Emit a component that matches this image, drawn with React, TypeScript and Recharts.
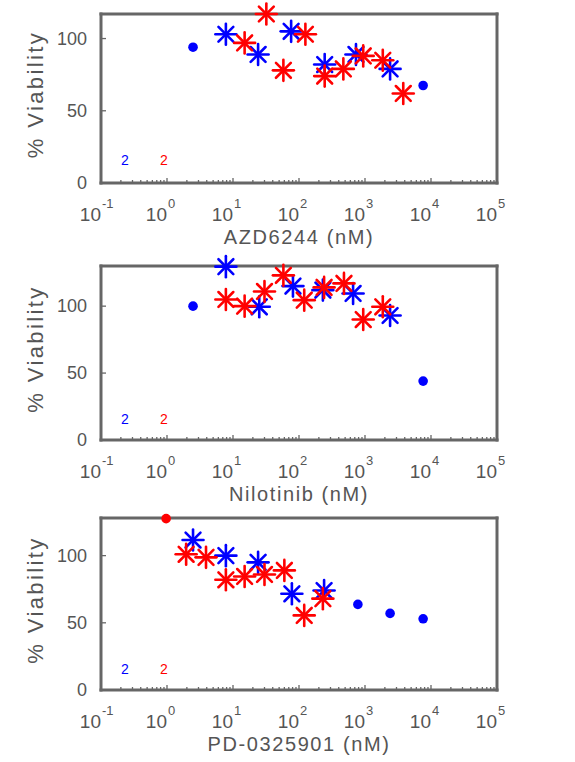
import { ScatterChart, Scatter, XAxis, YAxis } from 'recharts';

// dose (nM), % viability
const azdBlueStars = [[7.8, 103], [24, 89], [76, 105], [245, 82], [730, 89], [2400, 79]];
const azdRedStars = [[15, 97], [32, 117], [58, 78], [125, 103], [245, 74], [470, 79], [940, 88], [1860, 85], [3800, 62]];
const azdBlueDots = [[2.48, 94], [7600, 67.5]];
const azdRedDots: number[][] = [];

const niloBlueStars = [[7.8, 129.5], [25, 99.5], [81, 115], [230, 112], [660, 109.5], [2400, 93]];
const niloRedStars = [[7.8, 105], [15, 100], [30, 111], [58, 123], [120, 104.5], [240, 114], [480, 117], [940, 90], [1860, 99.5]];
const niloBlueDots = [[2.48, 100], [7600, 44]];
const niloRedDots: number[][] = [];

const pdBlueStars = [[2.48, 111.6], [7.8, 100], [24, 95], [78, 71.6], [240, 74]];
const pdRedStars = [[1.95, 101], [3.9, 98.7], [7.8, 82], [15, 84.5], [30, 86], [60, 89], [120, 55.5], [230, 68]];
const pdBlueDots = [[780, 63.7], [2400, 57], [7600, 53]];
const pdRedDots = [[0.97, 127.5]];

// the little "2" counts near the lower left
const blueCount = [[0.23, 16, 2]];
const redCount = [[0.9, 16, 2]];

const xTicks = [0.1, 1, 10, 100, 1000, 10000, 100000];
const yTicks = [0, 50, 100];
const minorTicks = xTicks.slice(0, -1).flatMap((d) => [2, 3, 4, 5, 6, 7, 8, 9].map((m) => d * m));
const allXTicks = [...xTicks, ...minorTicks];

const BLUE = '#0000ff';
const RED = '#ff0000';
const TEXT = '#555555';
const BOX = '#666666';
const FONT = '"Liberation Sans", Arial, Helvetica, sans-serif';

const toPts = (arr: number[][]) => arr.map(([x, y, n]) => ({ x, y, n }));

const makeStar = (color: string) => (props: any) => {
  const { cx, cy } = props;
  if (cx == null || cy == null) return <g />;
  const r = 10.5;
  const d = r * Math.SQRT1_2;
  return (
    <g stroke={color} strokeWidth={2.6} strokeLinecap="round">
      <line x1={cx - r} y1={cy} x2={cx + r} y2={cy} />
      <line x1={cx} y1={cy - r} x2={cx} y2={cy + r} />
      <line x1={cx - d} y1={cy - d} x2={cx + d} y2={cy + d} />
      <line x1={cx - d} y1={cy + d} x2={cx + d} y2={cy - d} />
    </g>
  );
};

const makeDot = (color: string) => (props: any) => {
  const { cx, cy } = props;
  if (cx == null || cy == null) return <g />;
  return <circle cx={cx} cy={cy} r={4.8} fill={color} />;
};

const makeCount = (color: string) => (props: any) => {
  const { cx, cy, payload } = props;
  if (cx == null || cy == null) return <g />;
  return (
    <text x={cx} y={cy} fill={color} fontSize={14} fontFamily={FONT} textAnchor="middle" dominantBaseline="central">
      {payload.n}
    </text>
  );
};

const BottomTick = (props: any) => {
  const { x, y, payload } = props;
  const v = payload.value;
  const major = xTicks.includes(v);
  const exp = Math.round(Math.log10(v));
  return (
    <g>
      <line x1={x} x2={x} y1={y} y2={y - (major ? 5 : 3)} stroke={BOX} strokeWidth={1.3} />
      {major && (
        <text x={x} y={y + 38} textAnchor="end" fontSize={19} fill={TEXT} fontFamily={FONT}>
          10
        </text>
      )}
      {major && (
        <text x={x + 1} y={y + 25} textAnchor="start" fontSize={13} fill={TEXT} fontFamily={FONT}>
          {exp}
        </text>
      )}
    </g>
  );
};

const TopTick = (props: any) => {
  const { x, y, payload } = props;
  const major = xTicks.includes(payload.value);
  return <line x1={x} x2={x} y1={y} y2={y + (major ? 5 : 3)} stroke={BOX} strokeWidth={1.3} />;
};

const LeftTick = (props: any) => {
  const { x, y, payload } = props;
  return (
    <g>
      <line x1={x} x2={x + 5} y1={y} y2={y} stroke={BOX} strokeWidth={1.3} />
      <text x={x - 14} y={y} textAnchor="end" dominantBaseline="central" fontSize={18} fill={TEXT} fontFamily={FONT}>
        {payload.value}
      </text>
    </g>
  );
};

const RightTick = (props: any) => {
  const { x, y } = props;
  return <line x1={x} x2={x - 5} y1={y} y2={y} stroke={BOX} strokeWidth={1.3} />;
};

interface PanelProps {
  title: string;
  top: number;
  height: number;
  ymax: number;
  blueStars: number[][];
  redStars: number[][];
  blueDots: number[][];
  redDots: number[][];
}

function Panel({ title, top, height, ymax, blueStars, redStars, blueDots, redDots }: PanelProps) {
  const axisLine = { stroke: BOX, strokeWidth: 3, strokeLinecap: 'square' as const };
  return (
    <div style={{ position: 'absolute', left: 0, top }}>
      <ScatterChart width={575} height={height} margin={{ top: 13, right: 77, bottom: 0, left: 0 }}>
        <XAxis
          xAxisId="b"
          dataKey="x"
          type="number"
          scale="log"
          domain={[0.1, 100000]}
          ticks={allXTicks}
          interval={0}
          tickSize={0}
          tickMargin={0}
          tick={<BottomTick />}
          tickLine={false}
          axisLine={axisLine}
          height={70}
          label={{
            content: (p: any) => {
              const vb = p.viewBox;
              return (
                <text
                  x={vb.x + vb.width / 2}
                  y={vb.y + 61}
                  textAnchor="middle"
                  fontSize={20}
                  letterSpacing={1.6}
                  fill={TEXT}
                  fontFamily={FONT}
                >
                  {title}
                </text>
              );
            },
          }}
        />
        <XAxis
          xAxisId="t"
          orientation="top"
          dataKey="x"
          type="number"
          scale="log"
          domain={[0.1, 100000]}
          ticks={allXTicks}
          interval={0}
          tickSize={0}
          tickMargin={0}
          tick={<TopTick />}
          tickLine={false}
          axisLine={axisLine}
          height={1}
        />
        <YAxis
          yAxisId="l"
          dataKey="y"
          type="number"
          domain={[0, ymax]}
          ticks={yTicks}
          interval={0}
          tickSize={0}
          tickMargin={0}
          tick={<LeftTick />}
          tickLine={false}
          axisLine={axisLine}
          width={101}
          label={{
            content: (p: any) => {
              const vb = p.viewBox;
              const cx = vb.x + 35;
              const cy = vb.y + vb.height / 2 - 4;
              return (
                <text
                  x={cx}
                  y={cy}
                  transform={`rotate(-90 ${cx} ${cy})`}
                  textAnchor="middle"
                  dominantBaseline="central"
                  fontSize={22}
                  letterSpacing={2.4}
                  fill={TEXT}
                  fontFamily={FONT}
                >
                  % Viability
                </text>
              );
            },
          }}
        />
        <YAxis
          yAxisId="r"
          orientation="right"
          dataKey="y"
          type="number"
          domain={[0, ymax]}
          ticks={yTicks}
          interval={0}
          tickSize={0}
          tickMargin={0}
          tick={<RightTick />}
          tickLine={false}
          axisLine={axisLine}
          width={1}
        />
        <Scatter xAxisId="b" yAxisId="l" data={toPts(blueDots)} shape={makeDot(BLUE)} isAnimationActive={false} />
        <Scatter xAxisId="b" yAxisId="l" data={toPts(redDots)} shape={makeDot(RED)} isAnimationActive={false} />
        <Scatter xAxisId="b" yAxisId="l" data={toPts(blueStars)} shape={makeStar(BLUE)} isAnimationActive={false} />
        <Scatter xAxisId="b" yAxisId="l" data={toPts(redStars)} shape={makeStar(RED)} isAnimationActive={false} />
        <Scatter xAxisId="b" yAxisId="l" data={toPts(blueCount)} shape={makeCount(BLUE)} isAnimationActive={false} />
        <Scatter xAxisId="b" yAxisId="l" data={toPts(redCount)} shape={makeCount(RED)} isAnimationActive={false} />
      </ScatterChart>
    </div>
  );
}

export default function App() {
  return (
    <div style={{ position: 'absolute', left: 0, top: 0, width: 575, height: 762, background: '#fff' }}>
      <Panel
        title="AZD6244 (nM)"
        top={0}
        height={253}
        ymax={117}
        blueStars={azdBlueStars}
        redStars={azdRedStars}
        blueDots={azdBlueDots}
        redDots={azdRedDots}
      />
      <Panel
        title="Nilotinib (nM)"
        top={252}
        height={258}
        ymax={130}
        blueStars={niloBlueStars}
        redStars={niloRedStars}
        blueDots={niloBlueDots}
        redDots={niloRedDots}
      />
      <Panel
        title="PD-0325901 (nM)"
        top={504}
        height={256}
        ymax={128}
        blueStars={pdBlueStars}
        redStars={pdRedStars}
        blueDots={pdBlueDots}
        redDots={pdRedDots}
      />
    </div>
  );
}
